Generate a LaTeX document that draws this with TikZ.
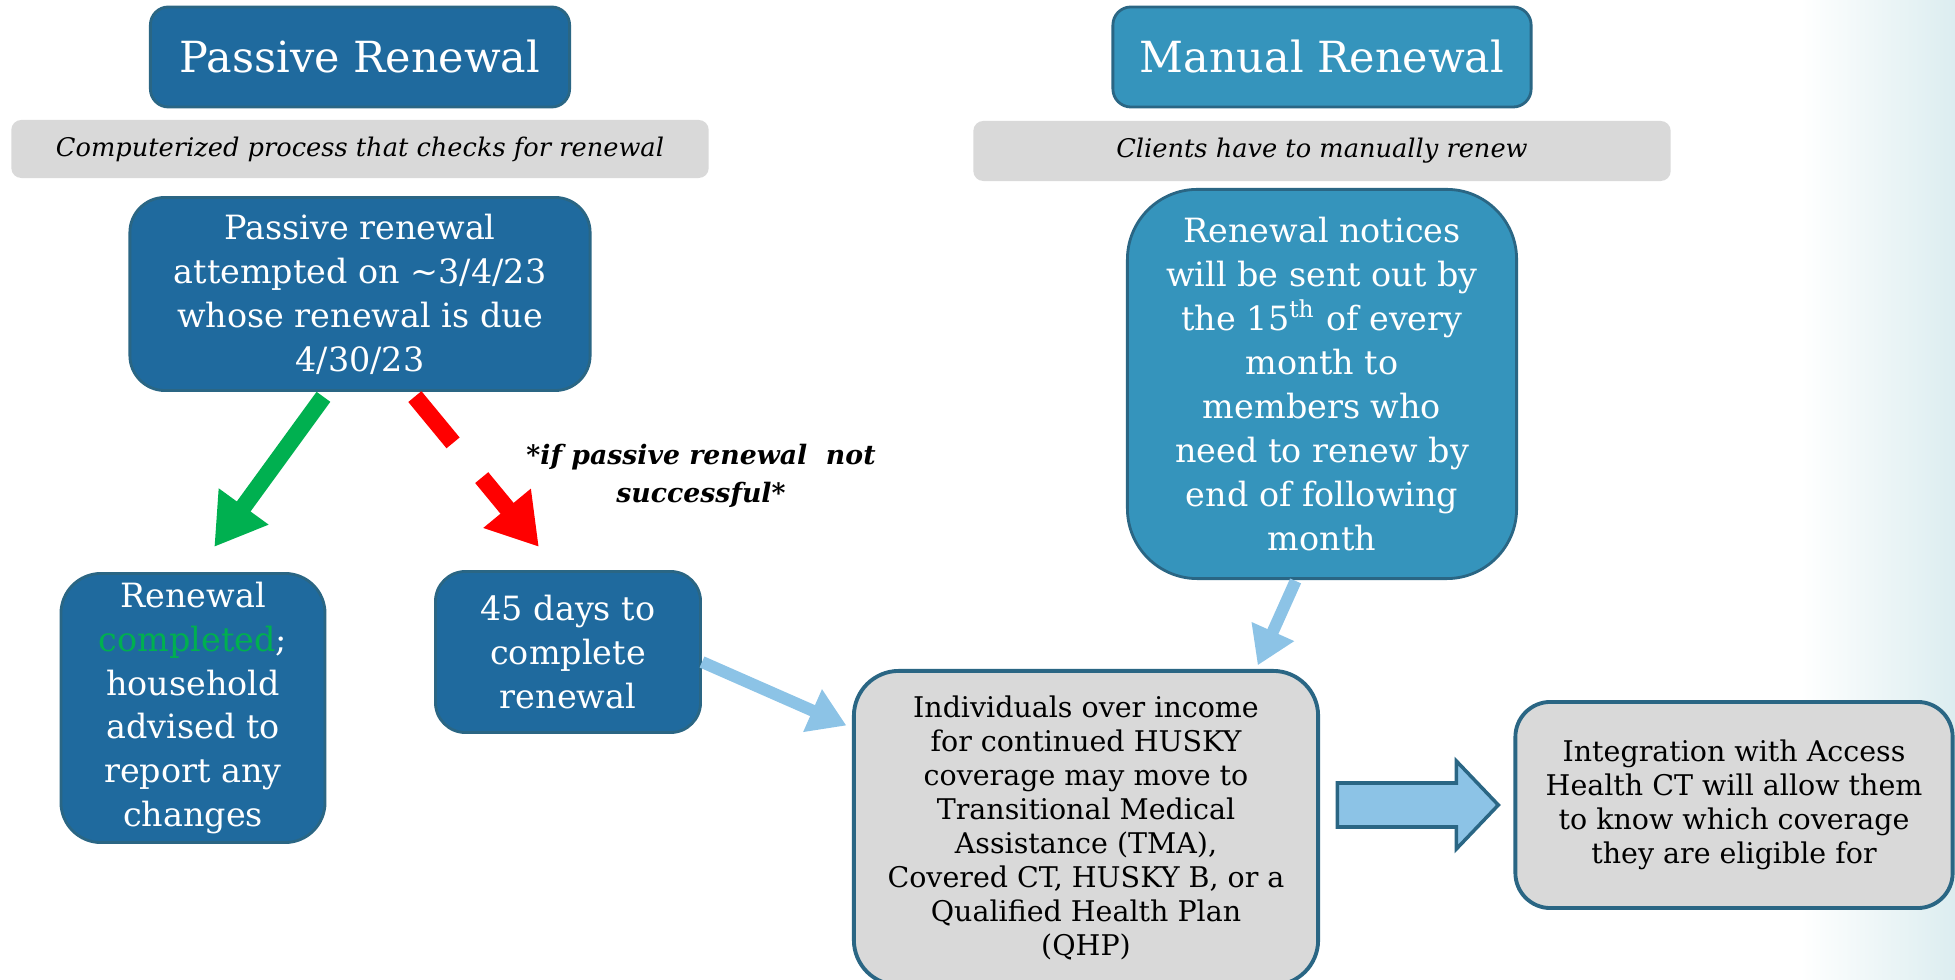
\documentclass[tikz,border=0pt]{standalone}
\usepackage{fontspec}
\setmainfont{DejaVu Serif}
\usetikzlibrary{arrows.meta,calc}

\definecolor{pasblue}{HTML}{1F6A9E}
\definecolor{manblue}{HTML}{3594BC}
\definecolor{edgeblue}{HTML}{2A6684}
\definecolor{bargrey}{HTML}{D9D9D9}
\definecolor{okgreen}{HTML}{00B050}
\definecolor{skyblue}{HTML}{8CC3E6}
\definecolor{haze}{HTML}{DCEDF0}

\tikzset{
    titlebox/.style={rounded corners=0.18cm,draw=edgeblue,line width=0.8pt,text=white,font=\fontsize{12.2}{15}\selectfont,inner sep=0pt},
    subbar/.style={fill=bargrey,rounded corners=0.1cm,font=\fontsize{7.3}{8.5}\selectfont\itshape,inner sep=0pt},
    bluebox/.style={fill=pasblue,draw=edgeblue,line width=0.8pt,text=white,align=center,font=\fontsize{9.5}{12.5}\selectfont,inner sep=0pt},
    greybox/.style={fill=bargrey,draw=edgeblue,line width=1.1pt,align=center,font=\fontsize{8.1}{9.7}\selectfont,inner sep=0pt},
    fat/.style={line width=0.17cm,-{Triangle[length=0.5cm,width=0.58cm]}},
    thin/.style={line width=0.12cm,skyblue,-{Triangle[length=0.37cm,width=0.44cm]}},
}

\begin{document}
\begin{tikzpicture}[x=0.01cm,y=-0.01cm]
    \useasboundingbox (0,0) rectangle (1955,980);
    \shade[left color=white,right color=haze] (1800,0) rectangle (1955,980);

    \node[titlebox,fill=pasblue,minimum width=4.19cm,minimum height=1cm] (ptitle) at (360,57) {Passive Renewal};
    \node[titlebox,fill=manblue,minimum width=4.18cm,minimum height=1cm] (mtitle) at (1322,57) {Manual Renewal};
    \node[subbar,minimum width=6.97cm,minimum height=0.58cm] (pbar) at (360,149) {Computerized process that checks for renewal};
    \node[subbar,minimum width=6.97cm,minimum height=0.6cm] (mbar) at (1322,151) {Clients have to manually renew};

    \node[bluebox,rounded corners=0.35cm,minimum width=4.6cm,minimum height=1.93cm] (pas) at (360,294)
        {Passive renewal\\attempted on \textasciitilde3/4/23\\whose renewal is due\\4/30/23};
    \node[bluebox,rounded corners=0.4cm,minimum width=2.64cm,minimum height=2.69cm] (done) at (193,708)
        {Renewal\\\textcolor{okgreen}{completed};\\household\\advised to\\report any\\changes};
    \node[bluebox,rounded corners=0.3cm,minimum width=2.65cm,minimum height=1.61cm] (days) at (568,652)
        {45 days to\\complete\\renewal};
    \node[bluebox,fill=manblue,rounded corners=0.7cm,minimum width=3.89cm,minimum height=3.89cm] (notice) at (1322,384)
        {Renewal notices\\will be sent out by\\the 15\textsuperscript{th} of every\\month to\\members who\\need to renew by\\end of following\\month};

    \node[greybox,rounded corners=0.45cm,minimum width=4.64cm,minimum height=3.14cm] (move) at (1086,828)
        {Individuals over income\\for continued HUSKY\\coverage may move to\\Transitional Medical\\Assistance (TMA),\\Covered CT, HUSKY B, or a\\Qualified Health Plan\\(QHP)};
    \node[greybox,rounded corners=0.35cm,minimum width=4.37cm,minimum height=2.06cm] (integ) at (1734,805)
        {Integration with Access\\Health CT will allow them\\to know which coverage\\they are eligible for};

    \node[align=center,font=\fontsize{7.6}{10.6}\selectfont\bfseries\itshape] (fail) at (701,476)
        {*if passive renewal~ not\\successful*};

    \draw[fat,okgreen,shorten <=0.06cm,shorten >=0.31cm] ([xshift=-0.33cm]pas.south) -- ([xshift=0.03cm]done.north);
    \draw[fat,red,dash pattern=on 0.6cm off 0.45cm on 3cm,shorten <=0.06cm,shorten >=0.3cm] ([xshift=0.51cm]pas.south) -- ([xshift=-0.1cm]days.north);
    \draw[thin,shorten >=0.06cm] ([yshift=-0.1cm]days.east) -- ([yshift=1.0cm]move.west);
    \draw[thin,shorten <=0.01cm,shorten >=0.04cm] ([xshift=-0.26cm]notice.south) -- ([xshift=1.7cm]move.north);

    % block arrow between the grey boxes
    \coordinate (bk) at ([xshift=-1.76cm]integ.west);
    \draw[fill=skyblue,draw=edgeblue,line width=1pt] (bk) ++(0,-22) -- ++(119,0) -- ++(0,-22) -- ++(42,44) -- ++(-42,44) -- ++(0,-22) -- ++(-119,0) -- cycle;
\end{tikzpicture}
\end{document}
